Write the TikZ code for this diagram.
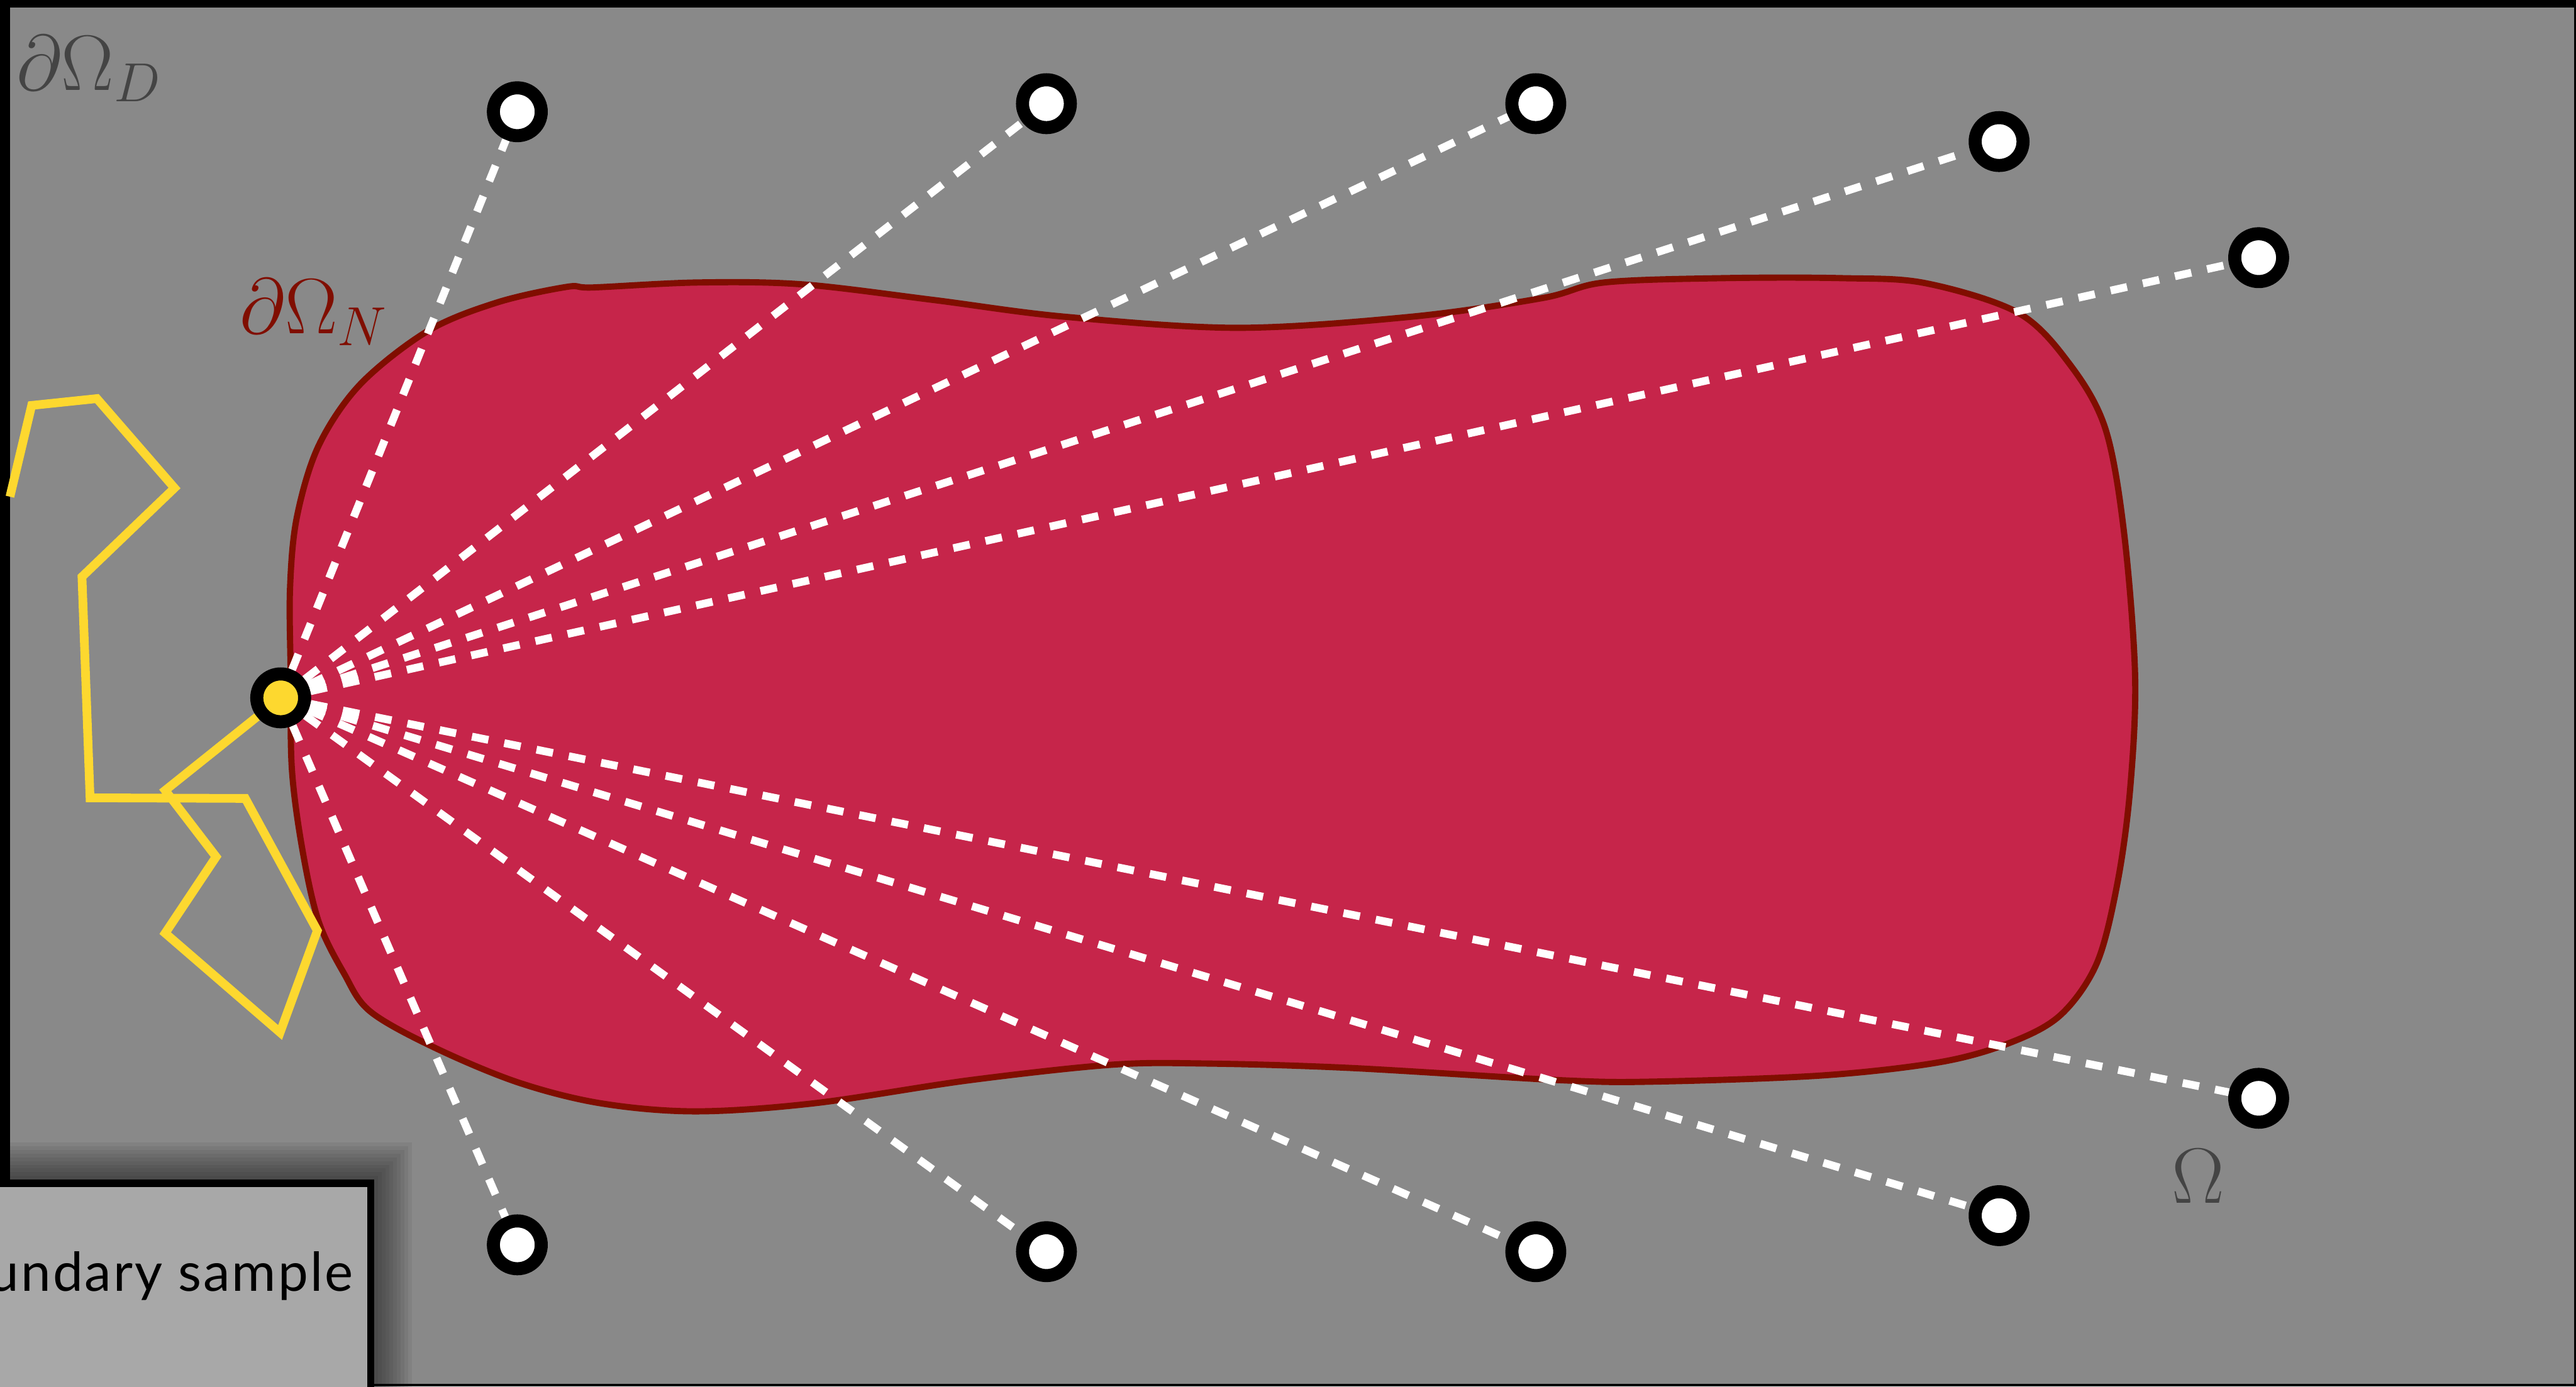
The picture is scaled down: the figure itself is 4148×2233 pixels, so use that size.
\RequirePackage{fix-cm}
\documentclass[tikz,border=0pt]{standalone}
\usepackage{tikz}
\usepackage{fontspec}
\newfontfamily\samplefont{Lato}[LetterSpace=3.5]

\definecolor{domaingray}{RGB}{137,137,137}
\definecolor{labelgray}{RGB}{68,68,68}
\definecolor{blobred}{RGB}{198,37,74}
\definecolor{blobedge}{RGB}{128,14,0}
\definecolor{walkyellow}{RGB}{253,216,47}
\definecolor{boxgray}{RGB}{168,168,168}

\tikzset{
  sensor/.style={circle, draw=black, line width=0.21cm, fill=white, minimum size=0.77cm, inner sep=0pt},
  source/.style={sensor, fill=walkyellow},
  ray/.style={white, line width=0.125cm, dash pattern=on 0.27cm off 0.26cm},
  walk/.style={walkyellow, line width=0.14cm},
  blob/.style={fill=blobred, draw=blobedge, line width=0.1cm},
  samplebox/.style={fill=boxgray, draw=black, line width=0.12cm},
  bigmath/.style={inner sep=0pt, anchor=base west, font=\fontsize{36}{40}\selectfont},
}

\begin{document}
\begin{tikzpicture}[x=0.01cm, y=-0.01cm]
    \useasboundingbox (0,0) rectangle (4148,2233);

    % Domaine Omega
    \fill[black] (0,0) rectangle (4148,2233);
    \fill[domaingray] (16,12) rectangle (4145,2229);

    % Forme (bord de Neumann)
    \draw[blob] plot [smooth cycle, tension=0.55] coordinates {
        (955,463) (1123,455) (1292,458) (1502,483) (1713,510) (1993,528)
        (2274,510) (2484,480) (2583,455) (2774,448) (2965,448) (3100,456)
        (3250,504) (3333,587) (3390,690) (3420,856) (3438,1088) (3430,1271)
        (3410,1420) (3377,1550) (3320,1633) (3243,1677) (3128,1710) (2937,1732)
        (2669,1742) (2516,1740) (2172,1720) (1942,1713) (1789,1715) (1560,1740)
        (1311,1777) (1120,1790) (967,1777) (833,1743) (699,1687) (596,1629)
        (554,1568) (513,1484) (487,1369) (470,1239) (468,1086) (467,948)
        (478,833) (513,718) (580,619) (689,533) (801,487) (913,462)};

    % Source et capteurs
    \node[source] (src) at (452,1124) {};
    \node[sensor] (s1) at (833,180) {};
    \node[sensor] (s2) at (1685,167) {};
    \node[sensor] (s3) at (2473,167) {};
    \node[sensor] (s4) at (3219,228) {};
    \node[sensor] (s5) at (3637,415) {};
    \node[sensor] (s6) at (3637,1769) {};
    \node[sensor] (s7) at (3219,1958) {};
    \node[sensor] (s8) at (2473,2016) {};
    \node[sensor] (s9) at (1685,2016) {};
    \node[sensor] (s10) at (833,2005) {};

    \foreach \n in {1,...,10}
        \draw[ray] (src) -- (s\n);

    % Marche aleatoire
    \coordinate (walkstart) at (16,800);
    \draw[walk] (walkstart) -- (51,653) -- (156,642) -- (281,786) -- (132,929)
        -- (145,1285) -- (395,1286) -- (511,1499) -- (451,1663) -- (266,1503)
        -- (348,1380) -- (266,1273) -- (src);

    % Etiquettes
    \node[bigmath, text=labelgray] (dirlbl) at (26,145) {$\partial\Omega_D$};
    \node[bigmath, text=blobedge] (neulbl) at (386,537) {$\partial\Omega_N$};
    \node[bigmath, text=labelgray] (domlbl) at (3497,1938) {$\Omega$};

    % Boite avec ombre
    \foreach \s in {1,...,10}
        \fill[black, opacity=0.055] (-20,1900-6*\s) rectangle (603+6*\s,2260);
    \draw[samplebox] (-20,1906) rectangle (597,2260);
    \node[anchor=base east, inner sep=0pt, font=\samplefont\fontsize{24.6}{28}\selectfont] (samplelbl) at (569,2080) {Boundary sample};
\end{tikzpicture}
\end{document}
